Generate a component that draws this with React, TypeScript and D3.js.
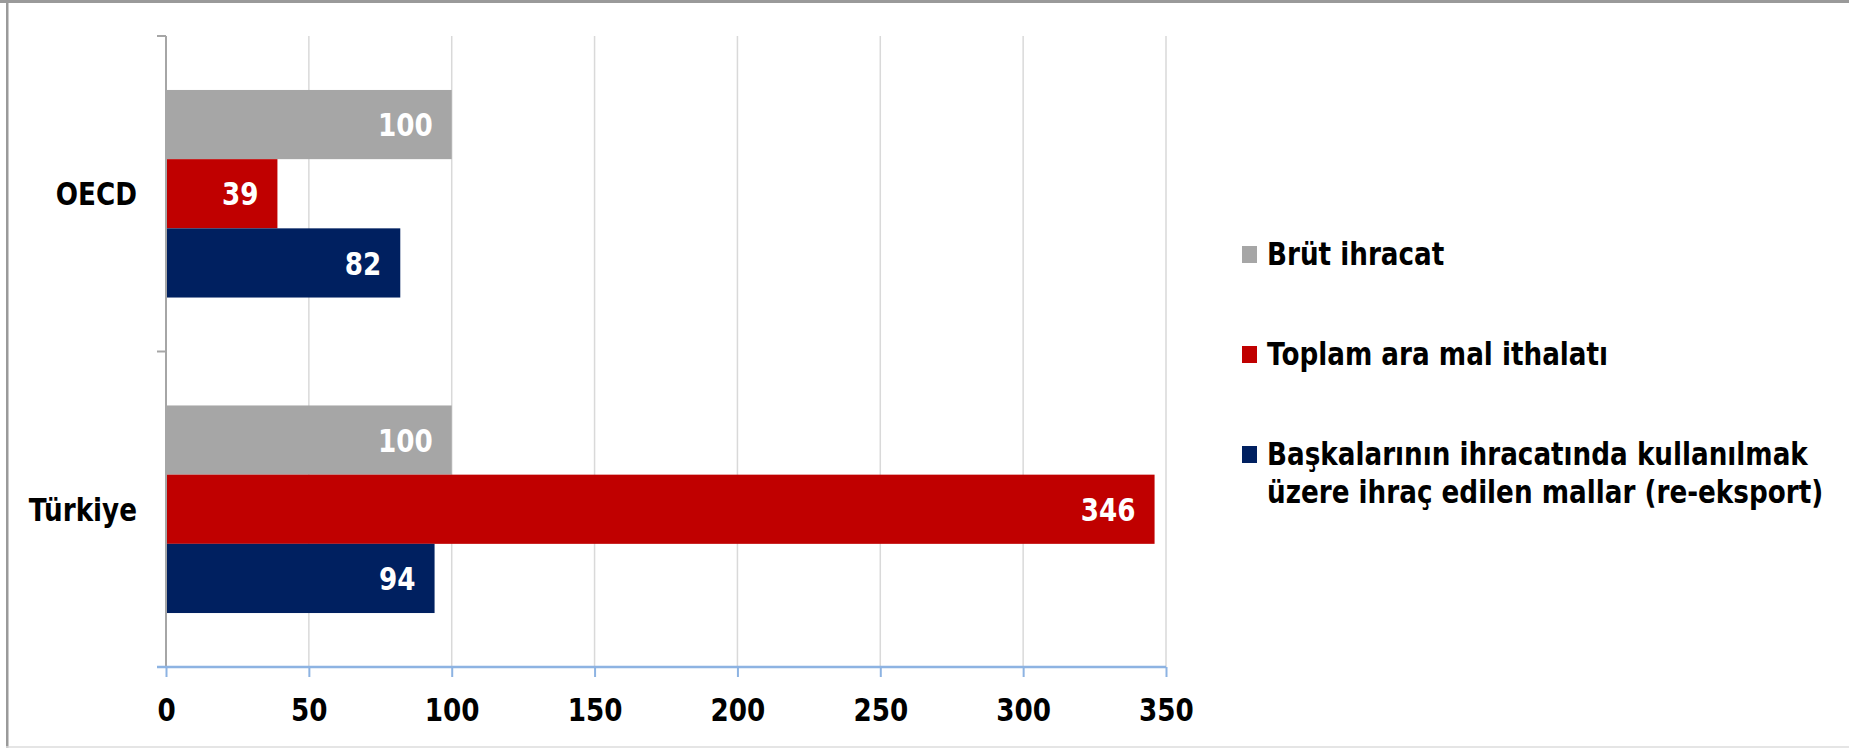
import React, { useEffect, useRef } from 'react';
import * as d3 from 'd3';

const categories = ['OECD', 'Türkiye'];
const seriesKeys = ['brut', 'araMal', 'reEksport'];
const brutIhracat = [100, 100];
const toplamAraMal = [39, 346];
const reEksport = [82, 94];
const seriesColors = ['#a6a6a6', '#c00000', '#002060'];
const legendLines = [
  ['Brüt ihracat'],
  ['Toplam ara mal ithalatı'],
  ['Başkalarının ihracatında kullanılmak', 'üzere ihraç edilen mallar (re-eksport)'],
];
const xTicks = [0, 50, 100, 150, 200, 250, 300, 350];

const W = 1849;
const H = 748;
const FONT = '"DejaVu Sans", Verdana, sans-serif';
const SQUEEZE = 0.82;

const App: React.FC = () => {
  const svgRef = useRef<SVGSVGElement>(null);

  useEffect(() => {
    if (!svgRef.current) return;
    document.body.style.margin = '0';
    const svg = d3.select(svgRef.current);
    svg.selectAll('*').remove();

    const values = [brutIhracat, toplamAraMal, reEksport];

    // frame
    svg.append('rect').attr('x', 0).attr('y', 0).attr('width', W).attr('height', H).attr('fill', '#fff');
    svg.append('rect').attr('x', 0).attr('y', 0).attr('width', W).attr('height', 3).attr('fill', '#9a9a9a');
    svg.append('rect').attr('x', 6).attr('y', 0).attr('width', 2.5).attr('height', H).attr('fill', '#9a9a9a');
    svg.append('line').attr('x1', 6).attr('x2', W).attr('y1', 747).attr('y2', 747)
      .attr('stroke', '#dcdcdc').attr('stroke-width', 1.5);

    const x = d3.scaleLinear().domain([0, 350]).range([166, 1166]);
    const y0 = d3.scaleBand<string>().domain(categories).range([36, 667]).padding(0);
    const y1 = d3.scaleBand<string>().domain(seriesKeys).range([0, y0.bandwidth()])
      .paddingInner(0).paddingOuter(0.78);

    const plotTop = y0.range()[0];
    const plotBottom = y0.range()[1];

    // gridlines
    svg.append('g').selectAll('line').data(xTicks.slice(1)).join('line')
      .attr('x1', d => x(d)).attr('x2', d => x(d))
      .attr('y1', plotTop).attr('y2', plotBottom)
      .attr('stroke', '#d9d9d9').attr('stroke-width', 1.5);

    // bars
    const capShift = 32 * 0.365;
    categories.forEach((cat, ci) => {
      seriesKeys.forEach((key, si) => {
        const v = values[si][ci];
        const yTop = (y0(cat) ?? 0) + (y1(key) ?? 0);
        const bh = y1.bandwidth();
        svg.append('rect')
          .attr('x', x(0)).attr('y', yTop)
          .attr('width', x(v) - x(0)).attr('height', bh)
          .attr('fill', seriesColors[si]);
        svg.append('text')
          .attr('class', 'cmp')
          .attr('x', x(v) - 19).attr('y', yTop + bh / 2 + capShift)
          .attr('text-anchor', 'end')
          .attr('font-family', FONT).attr('font-weight', 'bold').attr('font-size', 32)
          .attr('fill', '#fff')
          .text(v);
      });
      svg.append('text')
        .attr('class', 'cmp')
        .attr('x', 137).attr('y', (y0(cat) ?? 0) + y0.bandwidth() / 2 + capShift)
        .attr('text-anchor', 'end')
        .attr('font-family', FONT).attr('font-weight', 'bold').attr('font-size', 32)
        .attr('fill', '#000')
        .text(cat);
    });

    // y axis
    const yAxisG = svg.append('g');
    yAxisG.append('line').attr('x1', x(0)).attr('x2', x(0)).attr('y1', plotTop).attr('y2', plotBottom)
      .attr('stroke', '#a6a6a6').attr('stroke-width', 2);
    const yTickPos = [plotTop, ...categories.slice(1).map(c => y0(c) ?? 0), plotBottom];
    yAxisG.selectAll('line.tick').data(yTickPos).join('line')
      .attr('class', 'tick')
      .attr('x1', x(0) - 9).attr('x2', x(0)).attr('y1', d => d).attr('y2', d => d)
      .attr('stroke', '#a6a6a6').attr('stroke-width', 2);

    // x axis
    const xAxis = d3.axisBottom(x).tickValues(xTicks).tickSize(10).tickPadding(21)
      .tickFormat(d => `${d}`);
    const axisG = svg.append('g').attr('transform', `translate(0, ${plotBottom})`).call(xAxis);
    axisG.select('.domain').attr('stroke', '#8db3e2').attr('stroke-width', 2.5)
      .attr('d', `M${x(0) - 9},0H${x(350)}`);
    axisG.selectAll('.tick line').attr('stroke', '#8db3e2').attr('stroke-width', 2);
    axisG.selectAll('.tick text')
      .attr('class', 'cmp')
      .attr('font-family', FONT).attr('font-weight', 'bold').attr('font-size', 32)
      .attr('fill', '#000');

    // legend
    const legend = svg.append('g');
    legendLines.forEach((lines, i) => {
      const baseY = 265 + i * 100;
      legend.append('rect')
        .attr('x', 1242).attr('y', baseY - 19)
        .attr('width', 15).attr('height', 17)
        .attr('fill', seriesColors[i]);
      lines.forEach((ln, li) => {
        legend.append('text')
          .attr('class', 'cmp')
          .attr('x', 1267).attr('y', baseY + li * 38)
          .attr('font-family', FONT).attr('font-weight', 'bold').attr('font-size', 32)
          .attr('fill', '#000')
          .text(ln);
      });
    });

    // condense text horizontally around its anchor to match the narrow source face
    svg.selectAll<SVGTextElement, unknown>('text.cmp').each(function () {
      const ax = Number(this.getAttribute('x') || 0);
      const prev = this.getAttribute('transform') || '';
      this.setAttribute('transform', `${prev} translate(${ax},0) scale(${SQUEEZE},1) translate(${-ax},0)`.trim());
    });
  }, []);

  return (
    <svg ref={svgRef} width={W} height={H} style={{ display: 'block', position: 'absolute', left: 0, top: 0 }} />
  );
};

export default App;
